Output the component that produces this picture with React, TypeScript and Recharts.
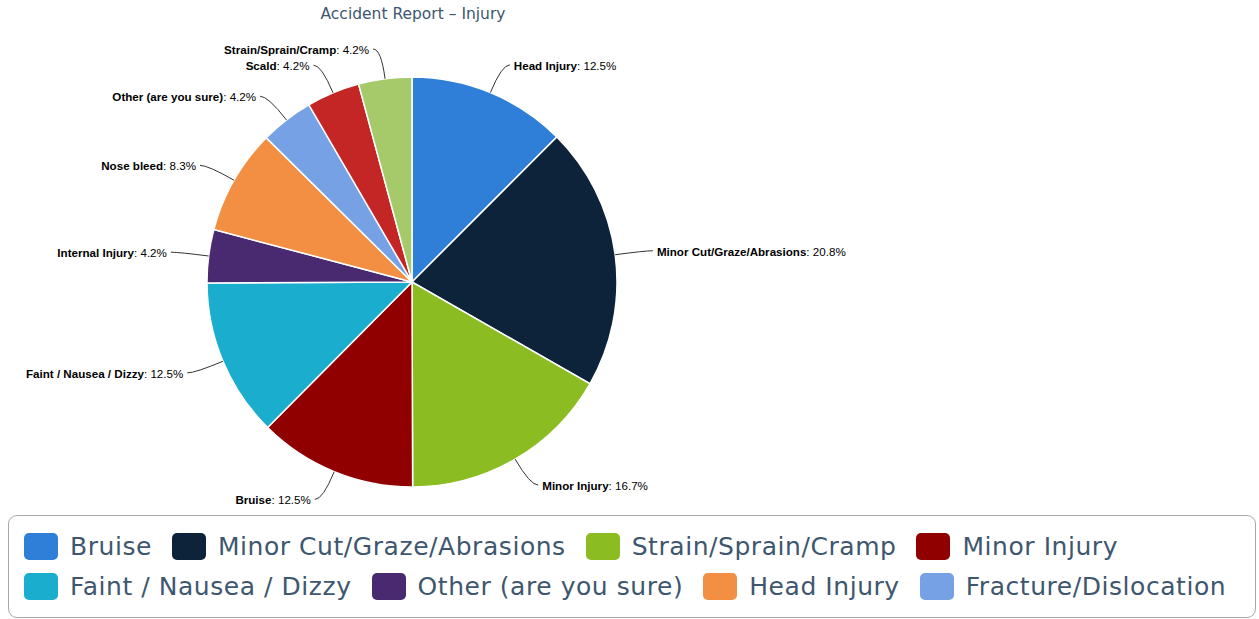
import React from 'react';
import { PieChart, Pie, Cell, Legend } from 'recharts';

// slice data, clockwise from 12 o'clock
const sliceNames = [
  'Head Injury',
  'Minor Cut/Graze/Abrasions',
  'Minor Injury',
  'Bruise',
  'Faint / Nausea / Dizzy',
  'Internal Injury',
  'Nose bleed',
  'Other (are you sure)',
  'Scald',
  'Strain/Sprain/Cramp',
];
const sliceValues = [12.5, 20.8, 16.7, 12.5, 12.5, 4.2, 8.3, 4.2, 4.2, 4.2];
const sliceColors = [
  '#2f7ed8',
  '#0d233a',
  '#8bbc21',
  '#910000',
  '#1aadce',
  '#492970',
  '#f28f43',
  '#77a1e5',
  '#c42525',
  '#a6c96a',
];

// legend as shown in the picture (two rows of four)
const legendNames = [
  'Bruise',
  'Minor Cut/Graze/Abrasions',
  'Strain/Sprain/Cramp',
  'Minor Injury',
  'Faint / Nausea / Dizzy',
  'Other (are you sure)',
  'Head Injury',
  'Fracture/Dislocation',
];
const legendColors = [
  '#2f7ed8',
  '#0d233a',
  '#8bbc21',
  '#910000',
  '#1aadce',
  '#492970',
  '#f28f43',
  '#77a1e5',
];

const chartData = sliceNames.map((name, i) => ({ name, value: sliceValues[i] }));

const TITLE_COLOR = '#3e576f';
const RAD = Math.PI / 180;

// data label with a soft connector, highcharts style
const renderLabel = (props: any) => {
  const { cx, cy, midAngle, outerRadius, index } = props;
  const cos = Math.cos(-midAngle * RAD);
  const sin = Math.sin(-midAngle * RAD);
  const sx = cx + outerRadius * cos;
  const sy = cy + outerRadius * sin;
  const mx = cx + (outerRadius + 30) * cos;
  const my = cy + (outerRadius + 30) * sin;
  const right = cos >= 0;
  const ex = mx + (right ? 8 : -8);
  return (
    <g key={`lbl-${index}`}>
      <path
        d={`M${sx},${sy} Q${mx},${my} ${ex},${my}`}
        stroke="#333"
        strokeWidth={1}
        fill="none"
      />
      <text
        x={ex + (right ? 4 : -4)}
        y={my}
        textAnchor={right ? 'start' : 'end'}
        dominantBaseline="central"
        fontFamily="'Liberation Sans', Arial, sans-serif"
        fontSize={11.6}
        fill="#000"
      >
        <tspan fontWeight="bold">{sliceNames[index]}</tspan>
        <tspan>: {sliceValues[index]}%</tspan>
      </text>
    </g>
  );
};

const renderLegend = () => {
  const rows = [legendNames.slice(0, 4), legendNames.slice(4)];
  return (
    <div
      style={{
        boxSizing: 'border-box',
        width: 1248,
        height: 103,
        border: '1.5px solid #a8a8a8',
        borderRadius: 9,
        background: '#fff',
        padding: '10px 0 0 15px',
      }}
    >
      {rows.map((row, r) => (
        <div key={r} style={{ display: 'flex', alignItems: 'center', height: 40 }}>
          {row.map((name, i) => (
            <div key={name} style={{ display: 'flex', alignItems: 'center', marginRight: 20 }}>
              <span
                style={{
                  display: 'inline-block',
                  width: 34,
                  height: 27,
                  borderRadius: 5,
                  background: legendColors[r * 4 + i],
                  marginRight: 12,
                }}
              />
              <span
                style={{
                  fontFamily: "'DejaVu Sans', sans-serif",
                  fontSize: 25,
                  letterSpacing: 0.55,
                  color: TITLE_COLOR,
                  whiteSpace: 'nowrap',
                }}
              >
                {name}
              </span>
            </div>
          ))}
        </div>
      ))}
    </div>
  );
};

export default function App() {
  return (
    <div
      style={{
        position: 'absolute',
        left: 0,
        top: 0,
        width: 1259,
        height: 619,
        background: '#fff',
      }}
    >
      <div
        style={{
          position: 'absolute',
          left: 213,
          width: 400,
          top: 5,
          textAlign: 'center',
          fontFamily: "'DejaVu Sans', sans-serif",
          fontSize: 15.5,
          color: TITLE_COLOR,
          zIndex: 2,
        }}
      >
        Accident Report – Injury
      </div>
      <PieChart width={1259} height={619} margin={{ top: 0, right: 0, bottom: 0, left: 0 }}>
        <Pie
          data={chartData}
          dataKey="value"
          nameKey="name"
          cx={412}
          cy={282}
          outerRadius={205}
          startAngle={90}
          endAngle={-270}
          stroke="#ffffff"
          strokeWidth={1.5}
          label={renderLabel}
          labelLine={false}
          isAnimationActive={false}
        >
          {chartData.map((entry, index) => (
            <Cell key={`cell-${index}`} fill={sliceColors[index]} />
          ))}
        </Pie>
        <Legend
          verticalAlign="bottom"
          content={renderLegend}
          wrapperStyle={{ left: 8, top: 515, bottom: 'auto', width: 1248 }}
        />
      </PieChart>
    </div>
  );
}
